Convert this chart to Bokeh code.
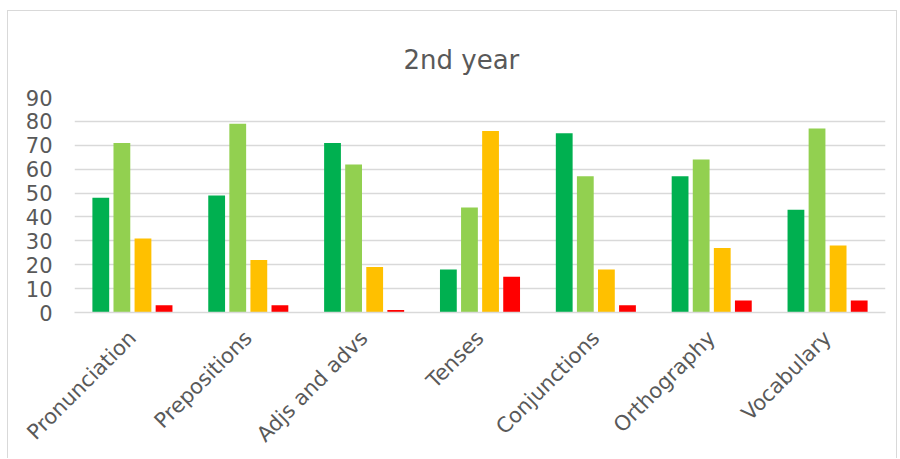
from bokeh.plotting import figure
from bokeh.models import ColumnDataSource, FactorRange, Title, SingleIntervalTicker
from bokeh.transform import dodge
from bokeh.embed import file_html
from bokeh.resources import INLINE
import math

categories = ["Pronunciation", "Prepositions", "Adjs and advs", "Tenses",
              "Conjunctions", "Orthography", "Vocabulary"]
series1 = [48, 49, 71, 18, 75, 57, 43]
series2 = [71, 79, 62, 44, 57, 64, 77]
series3 = [31, 22, 19, 76, 18, 27, 28]
series4 = [3, 3, 1, 15, 3, 5, 5]
colors = ["#00B050", "#92D050", "#FFC000", "#FF0000"]
title_text = "2nd year"

src = ColumnDataSource(dict(cat=categories, s1=series1, s2=series2, s3=series3, s4=series4))

FONT = "DejaVu Sans"
GRAY = "#595959"
GRID = "#d9d9d9"

p = figure(x_range=FactorRange(*categories, range_padding=0), y_range=(0, 90),
           width=890, height=448, output_backend="svg", toolbar_location=None,
           min_border_left=66, min_border_right=13, min_border_top=86, min_border_bottom=147)
p.margin = (10, 0, 0, 7)
p.styles = {"border-top": "1px solid #d9d9d9", "border-left": "1px solid #d9d9d9",
            "border-right": "1px solid #d9d9d9"}

offsets = [-0.273, -0.091, 0.091, 0.273]
for key, off, col in zip(["s1", "s2", "s3", "s4"], offsets, colors):
    p.vbar(x=dodge("cat", off, range=p.x_range), top=key, width=0.145, bottom=0,
           source=src, fill_color=col, line_color=None)

p.title = Title(text=title_text, align="left", vertical_align="top", text_font=FONT,
                text_font_size="26px", text_font_style="normal", text_color=GRAY,
                offset=329, standoff=42)

p.outline_line_color = None
p.xgrid.grid_line_color = None
p.ygrid.grid_line_color = GRID
p.ygrid.grid_line_width = 1.5
p.yaxis.ticker = SingleIntervalTicker(interval=10)
p.yaxis.axis_line_color = None
p.yaxis.major_tick_line_color = None
p.yaxis.minor_tick_line_color = None
p.yaxis.major_label_text_font = FONT
p.yaxis.major_label_text_font_size = "21px"
p.yaxis.major_label_text_color = GRAY
p.yaxis.major_label_standoff = 16

p.xaxis.axis_line_color = GRID
p.xaxis.axis_line_width = 1.5
p.xaxis.major_tick_line_color = None
p.xaxis.minor_tick_line_color = None
p.xaxis.major_label_text_font = FONT
p.xaxis.major_label_text_font_size = "21px"
p.xaxis.major_label_text_color = GRAY
p.xaxis.major_label_orientation = math.pi / 4
p.xaxis.major_label_standoff = 16

open("out.html", "w").write(file_html(p, INLINE))
